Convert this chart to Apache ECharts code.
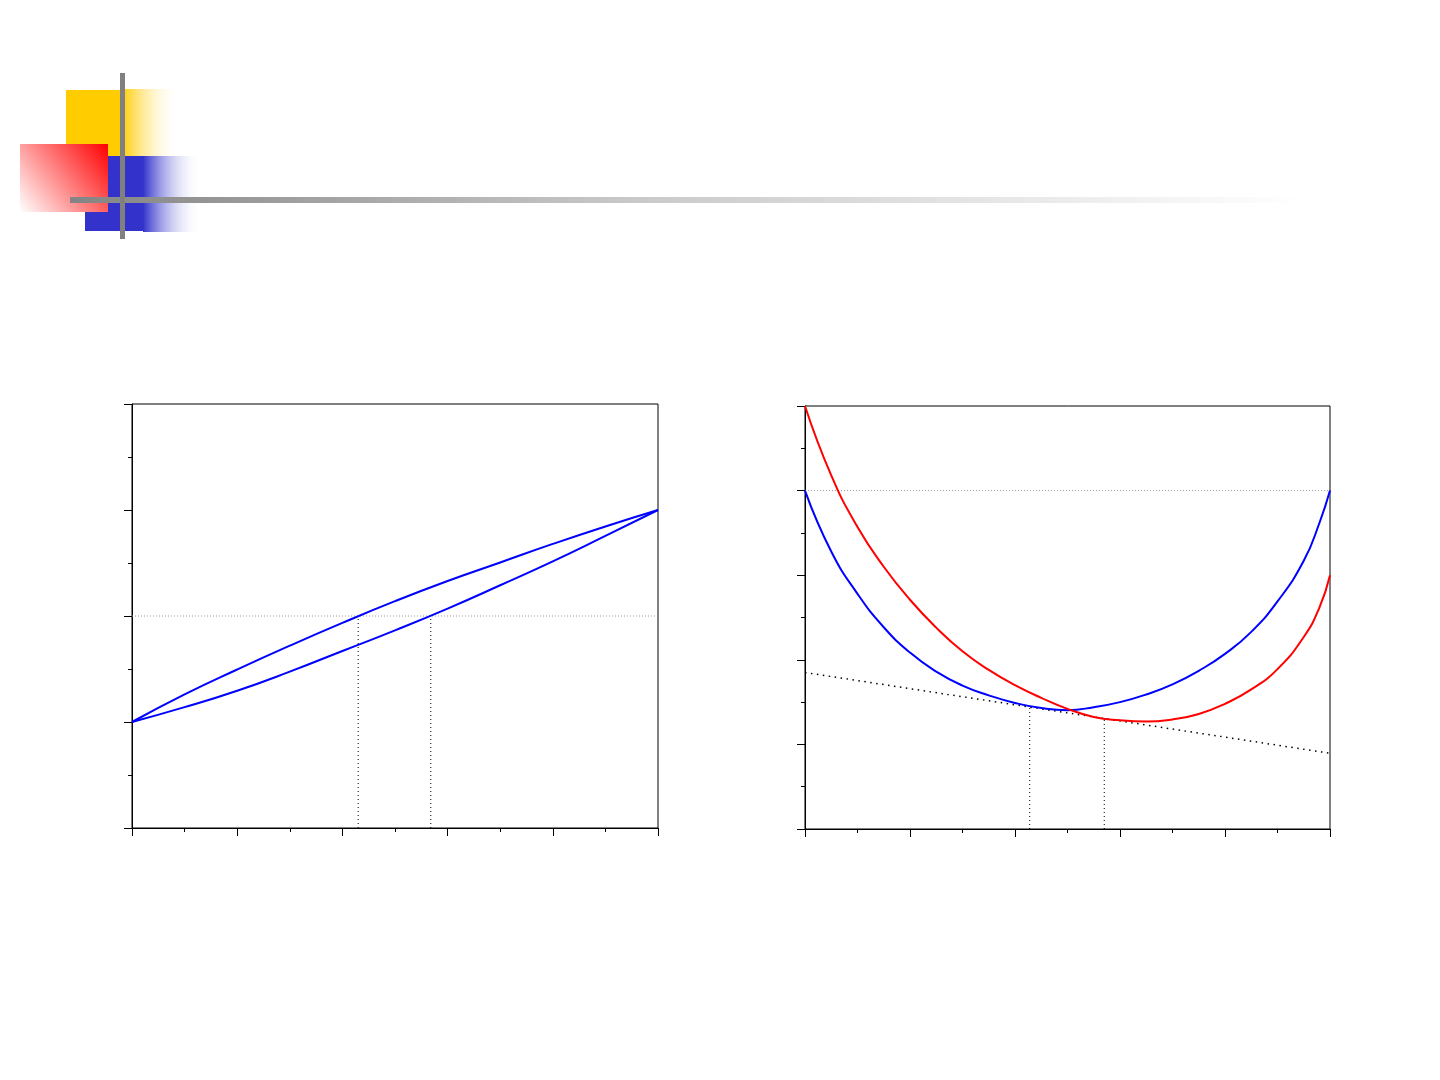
<!DOCTYPE html>
<html>
<head>
<meta charset="utf-8">
<style>
  html, body { margin: 0; padding: 0; background: #ffffff; }
  #chart { width: 1440px; height: 1080px; }
</style>
<script src="https://cdn.jsdelivr.net/npm/echarts@6/dist/echarts.min.js"></script>
</head>
<body>
<div id="chart"></div>
<script>
// ---- Left panel data ----
const xLeft      = [0, 0.5, 1, 1.5, 2, 2.5, 3, 3.5, 4, 4.5, 5];
const leftUpper  = [1.00, 1.26, 1.495, 1.72, 1.935, 2.14, 2.33, 2.505, 2.68, 2.845, 3.00];
const leftLower  = [1.00, 1.14, 1.295, 1.475, 1.67, 1.865, 2.07, 2.29, 2.515, 2.755, 3.00];
const leftLevel  = 2;
const leftGuideX = [2.15, 2.84];

// ---- Right panel data ----
const xRight     = [0, 0.25, 0.5, 0.75, 1, 1.25, 1.5, 1.75, 2, 2.25, 2.5, 2.75, 3, 3.25, 3.5, 3.75, 4, 4.25, 4.5, 4.75, 4.9, 5];
const rightBlue  = [4.0, 3.28, 2.78, 2.385, 2.085, 1.86, 1.695, 1.58, 1.49, 1.43, 1.405, 1.44, 1.50, 1.59, 1.71, 1.87, 2.07, 2.33, 2.69, 3.17, 3.62, 4.0];
const rightRed   = [5.0, 4.18, 3.57, 3.10, 2.71, 2.38, 2.10, 1.88, 1.70, 1.55, 1.42, 1.325, 1.285, 1.27, 1.295, 1.36, 1.48, 1.65, 1.89, 2.27, 2.62, 3.0];
const rightLevel = 4;
const tangentX   = [0, 5];
const tangentY   = [1.85, 0.895];
const rightGuideX = [2.14, 2.85];
const rightGuideTop = [1.44, 1.305];

const pairs = (xs, ys) => xs.map((x, i) => [x, ys[i]]);

function axisX(gridIndex) {
  return {
    type: 'value', gridIndex, min: 0, max: 5, interval: 1,
    axisLabel: { show: false }, splitLine: { show: false },
    axisLine: { show: true, onZero: false, lineStyle: { color: '#000', width: 1 } },
    axisTick: { show: true, inside: false, length: 8, lineStyle: { color: '#000', width: 1 } },
    minorTick: { show: true, splitNumber: 2, length: 4, lineStyle: { color: '#000', width: 1 } }
  };
}
function axisY(gridIndex, max) {
  return {
    type: 'value', gridIndex, min: 0, max: max, interval: 1,
    axisLabel: { show: false }, splitLine: { show: false },
    axisLine: { show: true, onZero: false, lineStyle: { color: '#000', width: 1 } },
    axisTick: { show: true, inside: false, length: 8, lineStyle: { color: '#000', width: 1 } },
    minorTick: { show: true, splitNumber: 2, length: 4, lineStyle: { color: '#000', width: 1 } }
  };
}

const grayDot = { color: '#9a9a9a', width: 1, type: [1, 2] };
const blackDot = { color: '#000', width: 1, type: [1, 3] };

function guide(xi, yi, data, style) {
  return {
    type: 'line', xAxisIndex: xi, yAxisIndex: yi, data, showSymbol: false, symbol: 'none',
    silent: true, z: 1, lineStyle: style, clip: false
  };
}
function curve(xi, yi, data, color) {
  return {
    type: 'line', xAxisIndex: xi, yAxisIndex: yi, data, showSymbol: false, symbol: 'none',
    smooth: 0.5, z: 3, clip: false,
    lineStyle: { color, width: 2 }
  };
}

const series = [
  // left guides
  guide(0, 0, [[0, leftLevel], [5, leftLevel]], grayDot),
  ...leftGuideX.map(x => guide(0, 0, [[x, 0], [x, leftLevel]], blackDot)),
  curve(0, 0, pairs(xLeft, leftUpper), '#0000ff'),
  curve(0, 0, pairs(xLeft, leftLower), '#0000ff'),
  // right guides
  guide(1, 1, [[0, rightLevel], [5, rightLevel]], grayDot),
  guide(1, 1, pairs(tangentX, tangentY), { color: '#000', width: 1.5, type: [1.5, 4.5] }),
  ...rightGuideX.map((x, i) => guide(1, 1, [[x, 0], [x, rightGuideTop[i]]], blackDot)),
  curve(1, 1, pairs(xRight, rightBlue), '#0000ff'),
  curve(1, 1, pairs(xRight, rightRed), '#ff0000')
];

const graphic = [
  // yellow square + fade
  { type: 'rect', shape: { x: 66, y: 90, width: 56, height: 67 }, style: { fill: '#FFCC00' }, z: 1 },
  { type: 'rect', shape: { x: 122, y: 89, width: 58, height: 68 }, z: 1,
    style: { fill: new echarts.graphic.LinearGradient(0, 0, 1, 0, [
      { offset: 0, color: 'rgba(255,204,0,1)' }, { offset: 1, color: 'rgba(255,255,255,0)' }]) } },
  // blue block + fade
  { type: 'rect', shape: { x: 85, y: 156, width: 59, height: 75 }, style: { fill: '#3333CC' }, z: 1 },
  { type: 'rect', shape: { x: 143, y: 156, width: 58, height: 76 }, z: 1,
    style: { fill: new echarts.graphic.LinearGradient(0, 0, 1, 0, [
      { offset: 0, color: 'rgba(51,51,204,1)' }, { offset: 1, color: 'rgba(255,255,255,0)' }]) } },
  // red square (diagonal gradient)
  { type: 'rect', shape: { x: 20, y: 144, width: 88, height: 68 }, z: 2,
    style: { fill: new echarts.graphic.LinearGradient(0, 1, 1, 0, [
      { offset: 0, color: '#ffffff' }, { offset: 1, color: '#ff0000' }]) } },
  // gray horizontal rule with fade
  { type: 'rect', shape: { x: 70, y: 197, width: 1232, height: 6 }, z: 3,
    style: { fill: new echarts.graphic.LinearGradient(0, 0, 1, 0, [
      { offset: 0, color: '#848484' }, { offset: 0.45, color: '#c8c8c8' }, { offset: 1, color: '#ffffff' }]) } },
  // gray vertical bar
  { type: 'rect', shape: { x: 120, y: 73, width: 5, height: 166 }, style: { fill: '#808080' }, z: 4 }
];

const chart = echarts.init(document.getElementById('chart'), null, { renderer: 'canvas' });
chart.setOption({
  animation: false,
  backgroundColor: '#ffffff',
  graphic,
  grid: [
    { left: 132, top: 404, width: 526, height: 424, show: true, borderColor: '#000', borderWidth: 1, backgroundColor: 'transparent' },
    { left: 805, top: 406, width: 525, height: 423, show: true, borderColor: '#000', borderWidth: 1, backgroundColor: 'transparent' }
  ],
  xAxis: [axisX(0), axisX(1)],
  yAxis: [axisY(0, 4), axisY(1, 5)],
  series
});
</script>
</body>
</html>
